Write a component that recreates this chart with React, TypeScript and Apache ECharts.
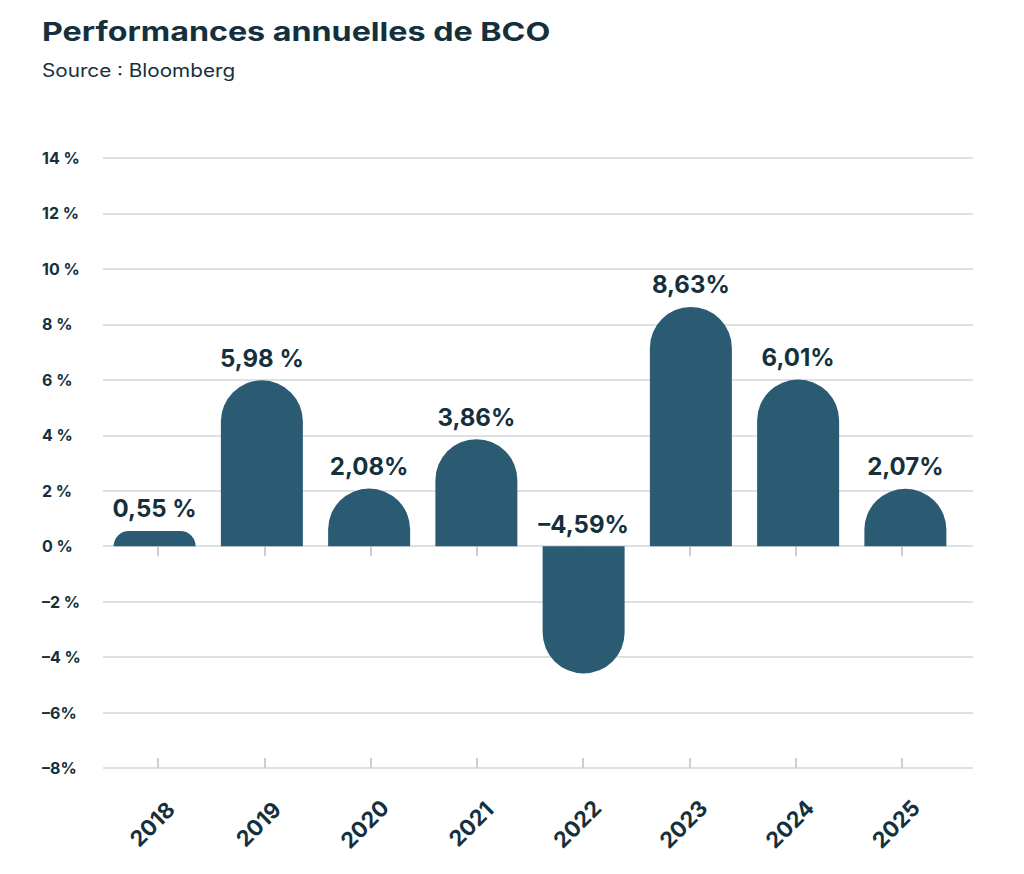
import React, { useEffect, useRef } from "react";
import * as echarts from "echarts";

// Annual performance of BCO, in percent
const years = ["2018", "2019", "2020", "2021", "2022", "2023", "2024", "2025"];
const performances = [0.55, 5.98, 2.08, 3.86, -4.59, 8.63, 6.01, 2.07];
const valueLabels = ["0,55 %", "5,98 %", "2,08%", "3,86%", "–4,59%", "8,63%", "6,01%", "2,07%"];
const yTickLabels: Record<string, string> = {
  "14": "14 %",
  "12": "12 %",
  "10": "10 %",
  "8": "8 %",
  "6": "6 %",
  "4": "4 %",
  "2": "2 %",
  "0": "0 %",
  "-2": "–2 %",
  "-4": "–4 %",
  "-6": "–6%",
  "-8": "–8%",
};
const titleText = "Performances annuelles de BCO";
const sourceText = "Source : Bloomberg";

const DARK = "#15303d";
const BAR = "#2b5b73";
const GRID = "#dde1e4";
const TICK = "#c8ced3";
const FONT = "Inter, 'Noto Sans', sans-serif";

const Y_MIN = -8;
const Y_MAX = 14;
const Y_STEP = 2;

export default function App() {
  const ref = useRef<HTMLDivElement>(null);

  useEffect(() => {
    if (!ref.current) return;
    const chart = echarts.init(ref.current, undefined, { renderer: "svg" });
    const top = 158;
    const bottom = 874 - 768;
    const half = 41;

    const hiddenY = (gridIndex: number) => ({
      gridIndex,
      type: "value",
      min: Y_MIN,
      max: Y_MAX,
      interval: Y_STEP,
      show: false,
      splitLine: { show: false },
    });

    chart.setOption({
      animation: false,
      backgroundColor: "#ffffff",
      graphic: [
        {
          type: "text",
          x: 42,
          y: 32,
          scaleX: 1.24,
          style: {
            text: titleText,
            x: 0,
            y: 0,
            align: "left",
            verticalAlign: "middle",
            font: `700 26px ${FONT}`,
            fill: DARK,
          },
        },
        {
          type: "text",
          x: 42,
          y: 71,
          scaleX: 1.15,
          style: {
            text: sourceText,
            x: 0,
            y: 0,
            align: "left",
            verticalAlign: "middle",
            font: `400 18px ${FONT}`,
            fill: DARK,
          },
        },
      ],
      grid: [
        // gridlines and y labels
        { left: 103, right: 51, top, bottom },
        // bars
        { left: 101, right: 65, top, bottom },
        // axis ticks
        { left: 105, right: 69, top, bottom },
        // category labels
        { left: 99, right: 75, top, bottom },
      ],
      xAxis: [
        { gridIndex: 0, type: "value", show: false },
        {
          gridIndex: 1,
          type: "category",
          data: years,
          axisLine: { show: false },
          axisTick: { show: false },
          axisLabel: { show: false },
        },
        {
          gridIndex: 2,
          type: "category",
          data: years,
          axisLine: { show: false },
          axisTick: { show: true, alignWithLabel: true, length: 10, lineStyle: { color: TICK, width: 2 } },
          axisLabel: { show: false },
        },
        {
          gridIndex: 2,
          type: "category",
          data: years,
          position: "bottom",
          axisLine: { show: false },
          axisTick: { show: true, inside: true, alignWithLabel: true, length: 10, lineStyle: { color: TICK, width: 2 } },
          axisLabel: { show: false },
        },
        {
          gridIndex: 3,
          type: "category",
          data: years,
          axisLine: { show: false },
          axisTick: { show: false },
          axisLabel: {
            rotate: 45,
            align: "center",
            verticalAlign: "middle",
            margin: 56,
            fontFamily: FONT,
            fontSize: 22,
            fontWeight: 700,
            color: DARK,
          },
        },
      ],
      yAxis: [
        {
          gridIndex: 0,
          type: "value",
          min: Y_MIN,
          max: Y_MAX,
          interval: Y_STEP,
          axisLine: { show: false },
          axisTick: { show: false },
          splitLine: { show: true, lineStyle: { color: GRID, width: 2 } },
          axisLabel: {
            align: "left",
            margin: 61,
            fontFamily: FONT,
            fontSize: 16,
            fontWeight: 700,
            color: DARK,
            formatter: (v: number) => yTickLabels[String(v)] ?? "",
          },
        },
        hiddenY(1),
        hiddenY(2),
        hiddenY(3),
      ],
      series: [
        {
          type: "bar",
          xAxisIndex: 1,
          yAxisIndex: 1,
          barWidth: 82,
          data: performances.map((v, i) => ({
            value: v,
            itemStyle: {
              color: BAR,
              borderRadius: v >= 0 ? [half, half, 0, 0] : [0, 0, half, half],
            },
            label: {
              show: true,
              position: "top",
              distance: 10,
              formatter: () => valueLabels[i],
            },
          })),
          label: {
            show: true,
            fontFamily: FONT,
            fontSize: 24,
            fontWeight: 700,
            color: DARK,
          },
        },
      ],
    });

    return () => chart.dispose();
  }, []);

  return (
    <div
      ref={ref}
      style={{ position: "absolute", left: 0, top: 0, width: 1024, height: 874 }}
    />
  );
}
